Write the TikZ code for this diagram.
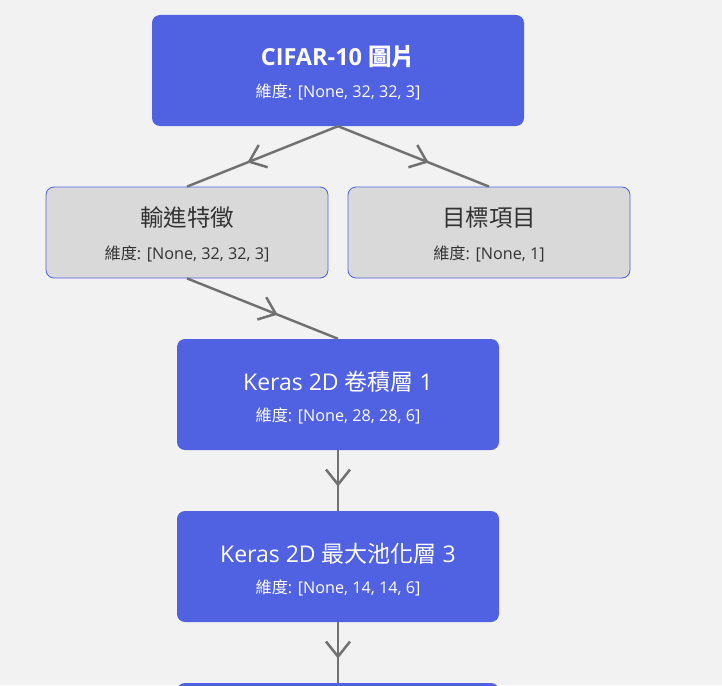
\documentclass[tikz,border=0pt]{standalone}
\usepackage{fontspec}
\setmainfont{Open Sans}
\newfontfamily\cjkfont{Noto Sans CJK TC}
\newcommand{\cj}[1]{{\cjkfont #1}}
\usetikzlibrary{arrows.meta,decorations.markings,calc}
\definecolor{bg}{HTML}{F2F2F2}
\definecolor{boxblue}{HTML}{5062E2}
\definecolor{boxgray}{HTML}{D9D9D9}
\definecolor{arrowgray}{HTML}{717171}
\definecolor{darktext}{HTML}{333333}
\begin{document}
\begin{tikzpicture}[x=1pt,y=-1pt,
  bluebox/.style={draw=none, fill=boxblue, rounded corners=8pt, inner sep=0pt},
  graybox/.style={draw=boxblue, line width=0.8pt, fill=boxgray, rounded corners=8pt, inner sep=0pt},
  titlew/.style={text=white, font=\fontsize{23}{27}\selectfont, inner sep=0pt},
  subw/.style={text=white, font=\fontsize{16.2}{19}\selectfont, inner sep=0pt},
  titleg/.style={text=darktext, font=\fontsize{23.5}{27}\selectfont, inner sep=0pt},
  subg/.style={text=darktext, font=\fontsize{16.2}{19}\selectfont, inner sep=0pt},
  flow/.style={draw=arrowgray, line width=2.5pt, postaction={decorate},
    decoration={markings, mark=at position 0.6 with {\arrow[arrowgray,line width=2.5pt]{Straight Barb[length=15pt,width=24pt]}}}}
]
\useasboundingbox (0,0) rectangle (722,685);
\clip (0,0) rectangle (722,685);
\fill[bg] (0,0) rectangle (722,685);

\node[bluebox, minimum width=372pt, minimum height=111pt] (cifar) at (338,70.5) {};
\node[titlew, font=\fontsize{23.5}{27}\selectfont\bfseries] (cifarT) at ($(cifar.center)+(0,-13.5)$) {CIFAR-10 \cj{\bfseries 圖片}};
\node[subw] (cifarS) at ($(cifar.center)+(0,21.5)$) {\cj{維度}: [None, 32, 32, 3]};

\node[graybox, minimum width=282pt, minimum height=91pt] (feat) at (187,232.5) {};
\node[titleg] (featT) at ($(feat.center)+(0,-14.5)$) {\cj{輸進特徵}};
\node[subg] (featS) at ($(feat.center)+(0,21.5)$) {\cj{維度}: [None, 32, 32, 3]};

\node[graybox, minimum width=282pt, minimum height=91pt] (target) at (489,232.5) {};
\node[titleg] (targetT) at ($(target.center)+(0,-14.5)$) {\cj{目標項目}};
\node[subg] (targetS) at ($(target.center)+(0,21.5)$) {\cj{維度}: [None, 1]};

\node[bluebox, minimum width=322pt, minimum height=111pt] (conv) at (338,394.5) {};
\node[titlew] (convT) at ($(conv.center)+(0,-12.5)$) {Keras 2D \cj{卷積層} 1};
\node[subw] (convS) at ($(conv.center)+(0,21.5)$) {\cj{維度}: [None, 28, 28, 6]};

\node[bluebox, minimum width=322pt, minimum height=111pt] (pool) at (338,566.5) {};
\node[titlew] (poolT) at ($(pool.center)+(0,-12.5)$) {Keras 2D \cj{最大池化層} 3};
\node[subw] (poolS) at ($(pool.center)+(0,21.5)$) {\cj{維度}: [None, 14, 14, 6]};

\node[bluebox, minimum width=322pt, minimum height=111pt] (next) at (338,738.5) {};

\draw[flow] (cifar.south) -- (feat.north);
\draw[flow] (cifar.south) -- (target.north);
\draw[flow] (feat.south) -- (conv.north);
\draw[flow] (conv.south) -- (pool.north);
\draw[flow] (pool.south) -- (next.north);
\end{tikzpicture}
\end{document}
